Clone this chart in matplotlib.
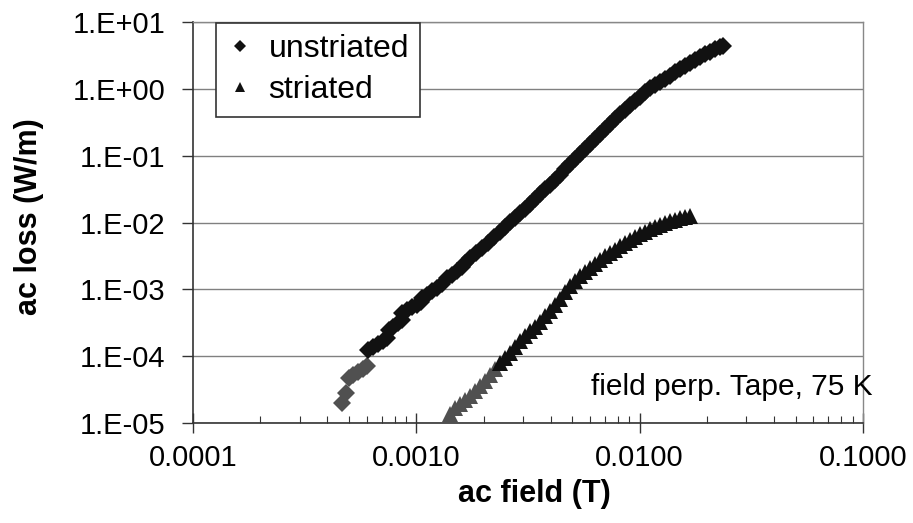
import numpy as np
import matplotlib
matplotlib.use("Agg")
import matplotlib.pyplot as plt
from matplotlib.ticker import FixedLocator, LogLocator, NullLocator, NullFormatter

plt.rcParams['font.family'] = ['Liberation Sans', 'DejaVu Sans']

# ac field (T) / ac loss (W/m)
unstr_field = [4.65e-4, 4.84e-4, 5.00e-4, 5.20e-4, 5.48e-4, 5.77e-4, 6.01e-4,
               6.08e-4, 6.40e-4, 6.73e-4, 7.10e-4, 7.39e-4,
               7.55e-4, 7.87e-4, 8.28e-4, 8.63e-4,
               8.63e-4, 9.08e-4, 9.57e-4, 1.007e-3, 1.05e-3,
               1.06e-3, 1.12e-3, 1.175e-3, 1.24e-3, 1.30e-3,
               1.37e-3, 1.445e-3, 1.52e-3, 1.60e-3,
               1.65e-3, 1.74e-3, 1.85e-3, 1.97e-3, 2.09e-3, 2.23e-3, 2.37e-3, 2.49e-3, 2.63e-3,
               2.77e-3, 2.91e-3, 3.07e-3, 3.23e-3, 3.40e-3, 3.58e-3, 3.77e-3, 3.97e-3, 4.18e-3, 4.40e-3,
               4.63e-3, 4.88e-3, 5.14e-3, 5.41e-3, 5.69e-3, 6.00e-3, 6.31e-3, 6.65e-3, 7.00e-3, 7.36e-3,
               7.76e-3, 8.17e-3, 8.59e-3, 9.06e-3, 9.53e-3, 1.005e-2, 1.057e-2, 1.11e-2, 1.17e-2, 1.23e-2,
               1.30e-2, 1.37e-2, 1.44e-2, 1.52e-2, 1.60e-2, 1.68e-2, 1.77e-2, 1.86e-2, 1.96e-2, 2.07e-2,
               2.17e-2, 2.29e-2, 2.36e-2]
unstr_loss = [1.99e-5, 2.81e-5, 4.71e-5, 5.23e-5, 5.80e-5, 6.43e-5, 7.13e-5,
              1.24e-4, 1.37e-4, 1.52e-4, 1.69e-4, 1.87e-4,
              2.46e-4, 2.73e-4, 3.13e-4, 3.48e-4,
              4.43e-4, 4.91e-4, 5.44e-4, 5.83e-4, 6.47e-4,
              7.42e-4, 8.23e-4, 9.44e-4, 1.05e-3, 1.20e-3,
              1.48e-3, 1.64e-3, 1.88e-3, 2.16e-3,
              2.48e-3, 2.94e-3, 3.50e-3, 4.16e-3, 4.93e-3, 6.07e-3, 7.21e-3, 8.57e-3, 1.02e-2,
              1.17e-2, 1.39e-2, 1.59e-2, 1.89e-2, 2.25e-2, 2.67e-2, 3.17e-2, 3.64e-2, 4.33e-2, 5.14e-2,
              6.32e-2, 7.50e-2, 8.92e-2, 0.106, 0.126, 0.150, 0.178, 0.211, 0.251, 0.298,
              0.354, 0.421, 0.482, 0.573, 0.658, 0.755, 0.897, 1.03, 1.14, 1.26,
              1.40, 1.56, 1.79, 1.98, 2.20, 2.44, 2.70, 2.99, 3.32, 3.56,
              3.94, 4.23, 4.38]

str_field = [1.415e-3, 1.49e-3, 1.57e-3, 1.65e-3, 1.74e-3, 1.83e-3, 1.93e-3, 2.03e-3, 2.14e-3, 2.25e-3,
             2.37e-3, 2.49e-3, 2.63e-3, 2.77e-3, 2.91e-3, 3.07e-3, 3.23e-3, 3.40e-3, 3.58e-3, 3.77e-3,
             3.97e-3, 4.18e-3, 4.40e-3, 4.63e-3, 4.88e-3, 5.14e-3, 5.41e-3, 5.69e-3, 6.00e-3, 6.31e-3,
             6.65e-3, 7.00e-3, 7.36e-3, 7.76e-3, 8.17e-3, 8.59e-3, 9.06e-3, 9.53e-3, 1.005e-2, 1.057e-2,
             1.11e-2, 1.17e-2, 1.23e-2, 1.30e-2, 1.37e-2, 1.44e-2, 1.52e-2, 1.60e-2, 1.68e-2]
str_loss = [1.37e-5, 1.68e-5, 1.92e-5, 2.21e-5, 2.54e-5, 3.01e-5, 3.58e-5, 4.25e-5, 5.23e-5, 6.43e-5,
            7.91e-5, 9.39e-5, 1.11e-4, 1.37e-4, 1.69e-4, 2.00e-4, 2.38e-4, 2.73e-4, 3.24e-4, 3.99e-4,
            4.74e-4, 5.83e-4, 7.16e-4, 9.12e-4, 1.12e-3, 1.33e-3, 1.58e-3, 1.82e-3, 2.08e-3, 2.39e-3,
            2.75e-3, 3.15e-3, 3.50e-3, 3.88e-3, 4.45e-3, 4.93e-3, 5.47e-3, 6.07e-3, 6.73e-3, 7.21e-3,
            8.00e-3, 8.57e-3, 9.18e-3, 9.84e-3, 1.05e-2, 1.09e-2, 1.17e-2, 1.21e-2, 1.25e-2]

x_ticks = [1e-4, 1e-3, 1e-2, 1e-1]
x_labels = ["0.0001", "0.0010", "0.0100", "0.1000"]
y_ticks = [1e-5, 1e-4, 1e-3, 1e-2, 1e-1, 1e0, 1e1]
y_labels = ["1.E-05", "1.E-04", "1.E-03", "1.E-02", "1.E-01", "1.E+00", "1.E+01"]

# the scan shows the first few points lighter
n_light_u = 7
n_light_s = 10

fig = plt.figure(figsize=(9.13, 5.23), dpi=100)
ax = fig.add_axes([0.2114, 0.1912, 0.7338, 0.7667])
ax.set_xscale('log')
ax.set_yscale('log')

ax.plot(unstr_field[:n_light_u], unstr_loss[:n_light_u], 'D', color='#505050', ms=9, mew=0)
ax.plot(unstr_field[n_light_u:], unstr_loss[n_light_u:], 'D', color='#111111', ms=9, mew=0,
        label='unstriated')
ax.plot(str_field[:n_light_s], str_loss[:n_light_s], '^', color='#505050', ms=11, mew=0)
ax.plot(str_field[n_light_s:], str_loss[n_light_s:], '^', color='#111111', ms=11, mew=0,
        label='striated')

ax.set_xlim(1e-4, 1e-1)
ax.set_ylim(1e-5, 1e1)

ax.xaxis.set_major_locator(FixedLocator(x_ticks))
ax.set_xticklabels(x_labels)
ax.xaxis.set_minor_locator(LogLocator(base=10, subs=range(2, 10)))
ax.xaxis.set_minor_formatter(NullFormatter())
ax.yaxis.set_major_locator(FixedLocator(y_ticks))
ax.set_yticklabels(y_labels)
ax.yaxis.set_minor_locator(NullLocator())

ax.tick_params(axis='x', which='major', direction='inout', length=14, width=1,
               color='#333333', pad=8, labelsize=21)
ax.tick_params(axis='x', which='minor', direction='in', length=5, width=0.8, color='#333333')
ax.tick_params(axis='y', which='major', direction='out', length=8, width=1,
               color='#333333', pad=12, labelsize=21)

ax.grid(axis='y', which='major', color='#808080', lw=1)
ax.set_axisbelow(True)

for side in ['left', 'bottom']:
    ax.spines[side].set_color('#333333')
    ax.spines[side].set_linewidth(1.2)
for side in ['top', 'right']:
    ax.spines[side].set_color('#888888')
    ax.spines[side].set_linewidth(1)

ax.set_xlabel('ac field (T)', fontsize=22, fontweight='bold')
ax.set_ylabel('ac loss (W/m)', fontsize=22, fontweight='bold')
ax.xaxis.set_label_coords(0.51, -0.14)
ax.yaxis.set_label_coords(-0.222, 0.514)

ax.text(1.015, 0.09, 'field perp. Tape, 75 K', transform=ax.transAxes,
        ha='right', va='center', fontsize=21.5, clip_on=False)

leg = ax.legend(loc='upper left', bbox_to_anchor=(0.034, 0.9975), fontsize=23,
                markerscale=0.7, handlelength=0.8, handletextpad=0.5,
                borderpad=0.35, labelspacing=0.35, borderaxespad=0,
                fancybox=False, framealpha=1, edgecolor='#333333')
leg.get_frame().set_linewidth(1.2)

fig.savefig('out.png', dpi=100)
